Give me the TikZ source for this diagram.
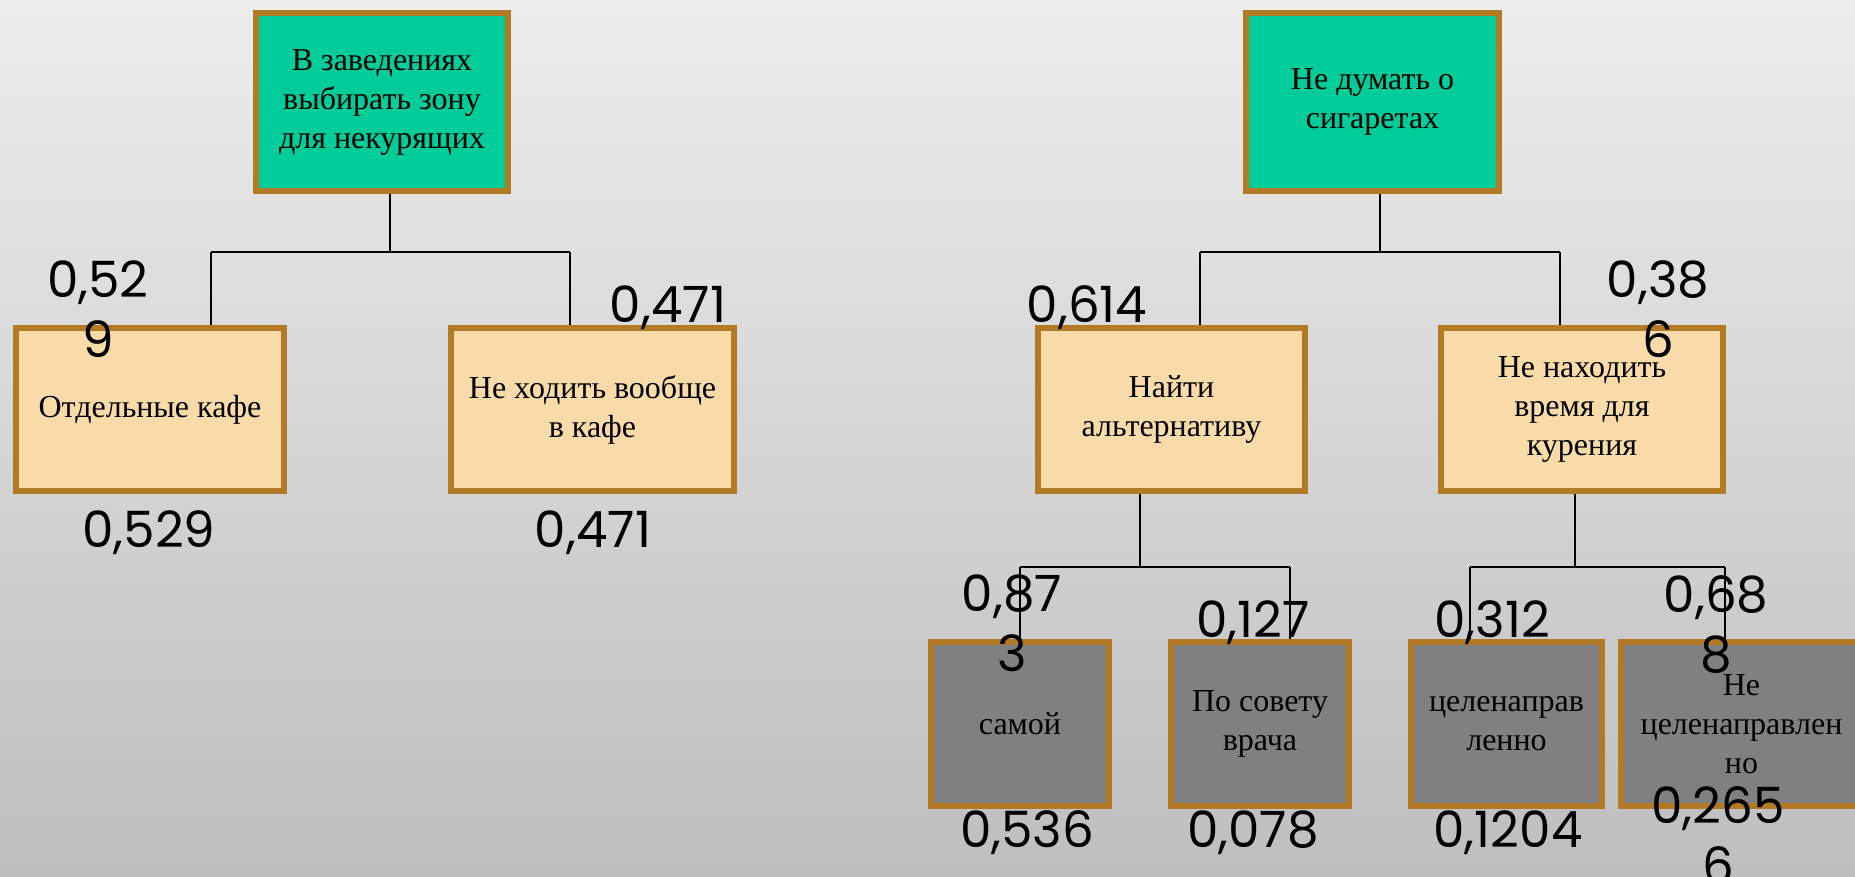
\documentclass[tikz,border=0pt]{standalone}
\usepackage{fontspec}
\setmainfont{Liberation Serif}
\newfontfamily\numfont{Poppins}
\definecolor{bord}{HTML}{B37A26}
\definecolor{gfill}{HTML}{00CC99}
\definecolor{ofill}{HTML}{F9DAA9}
\definecolor{sfill}{HTML}{808080}
\definecolor{bgtop}{HTML}{EDEDED}
\definecolor{bgbot}{HTML}{BEBEBE}
\pgfdeclarelayer{bg}
\pgfsetlayers{bg,main}
\tikzset{
  box/.style={draw=bord, line width=6pt, align=center, inner sep=0pt,
    font=\fontsize{32}{39}\selectfont},
  gbox/.style={box, fill=gfill},
  obox/.style={box, fill=ofill},
  sbox/.style={box, fill=sfill},
  num/.style={font=\numfont\fontsize{50}{60}\selectfont, inner sep=0pt, align=center},
  link/.style={line width=2pt, black}
}
\begin{document}
\begin{tikzpicture}[x=1pt,y=-1pt]
\useasboundingbox (0,0) rectangle (1855,876);
\clip (0,0) rectangle (1855,876);
% boxes
\node[gbox, minimum width=252pt, minimum height=178pt] (G1) at (382,102) {В заведениях\\выбирать зону\\для некурящих};
\node[gbox, minimum width=253pt, minimum height=178pt] (G2) at (1372.5,102) {Не думать о\\сигаретах};
\node[obox, minimum width=268pt, minimum height=163pt] (O1) at (150,409.5) {Отдельные кафе};
\node[obox, minimum width=283pt, minimum height=163pt] (O2) at (592.5,409.5) {Не ходить вообще\\в кафе};
\node[obox, minimum width=267pt, minimum height=163pt] (O3) at (1171.5,409.5) {Найти\\альтернативу};
\node[obox, minimum width=282pt, minimum height=163pt] (O4) at (1582,409.5) {Не находить\\время для\\курения};
\node[sbox, minimum width=178pt, minimum height=164pt] (S1) at (1020,724) {самой};
\node[sbox, minimum width=178pt, minimum height=164pt] (S2) at (1260,724) {По совету\\врача};
\node[sbox, minimum width=191pt, minimum height=164pt] (S3) at (1506.5,724) {целенаправ\\ленно};
\node[sbox, minimum width=241pt, minimum height=164pt] (S4) at (1741.5,724) {Не\\целенаправлен\\но};
% junctions
\coordinate (j1) at (390,252);
\coordinate (j1a) at (211,252);
\coordinate (j1b) at (570,252);
\coordinate (j2) at (1380,252);
\coordinate (j2a) at (1200,252);
\coordinate (j2b) at (1560,252);
\coordinate (j3) at (1140,567);
\coordinate (j3a) at (1020,567);
\coordinate (j3b) at (1290,567);
\coordinate (j4) at (1575,567);
\coordinate (j4a) at (1470,567);
\coordinate (j4b) at (1725,567);
\begin{pgfonlayer}{bg}
\shade[top color=bgtop, bottom color=bgbot] (0,0) rectangle (1855,876);
\draw[link] (G1.south -| j1) -- (j1);
\draw[link] (j1a) -- (j1b);
\draw[link] (j1a) -- (j1a |- O1.north);
\draw[link] (j1b) -- (j1b |- O2.north);
\draw[link] (G2.south -| j2) -- (j2);
\draw[link] (j2a) -- (j2b);
\draw[link] (j2a) -- (j2a |- O3.north);
\draw[link] (j2b) -- (j2b |- O4.north);
\draw[link] (O3.south -| j3) -- (j3);
\draw[link] (j3a) -- (j3b);
\draw[link] (j3a) -- (j3a |- S1.north);
\draw[link] (j3b) -- (j3b |- S2.north);
\draw[link] (O4.south -| j4) -- (j4);
\draw[link] (j4a) -- (j4b);
\draw[link] (j4a) -- (j4a |- S3.north);
\draw[link] (j4b) -- (j4b |- S4.north);
\end{pgfonlayer}
% labels
\node[num, anchor=north] (l1) at (98,260) {0,52\\9};
\node[num, anchor=base] (l2) at (668,322) {0,471};
\node[num, anchor=base] (l3) at (149,547) {0,529};
\node[num, anchor=base] (l4) at (593,547) {0,471};
\node[num, anchor=base] (l5) at (1087,322) {0,614};
\node[num, anchor=north] (l6) at (1658,260) {0,38\\6};
\node[num, anchor=north] (l7) at (1012,575) {0,87\\3};
\node[num, anchor=base] (l8) at (1253,637) {0,127};
\node[num, anchor=base] (l9) at (1492,637) {0,312};
\node[num, anchor=north] (l10) at (1716,575) {0,68\\8};
\node[num, anchor=base] (l11) at (1027,847) {0,536};
\node[num, anchor=base] (l12) at (1253,847) {0,078};
\node[num, anchor=base] (l13) at (1508,847) {0,1204};
\node[num, anchor=north] (l14) at (1718,786) {0,265\\6};
\end{tikzpicture}
\end{document}
